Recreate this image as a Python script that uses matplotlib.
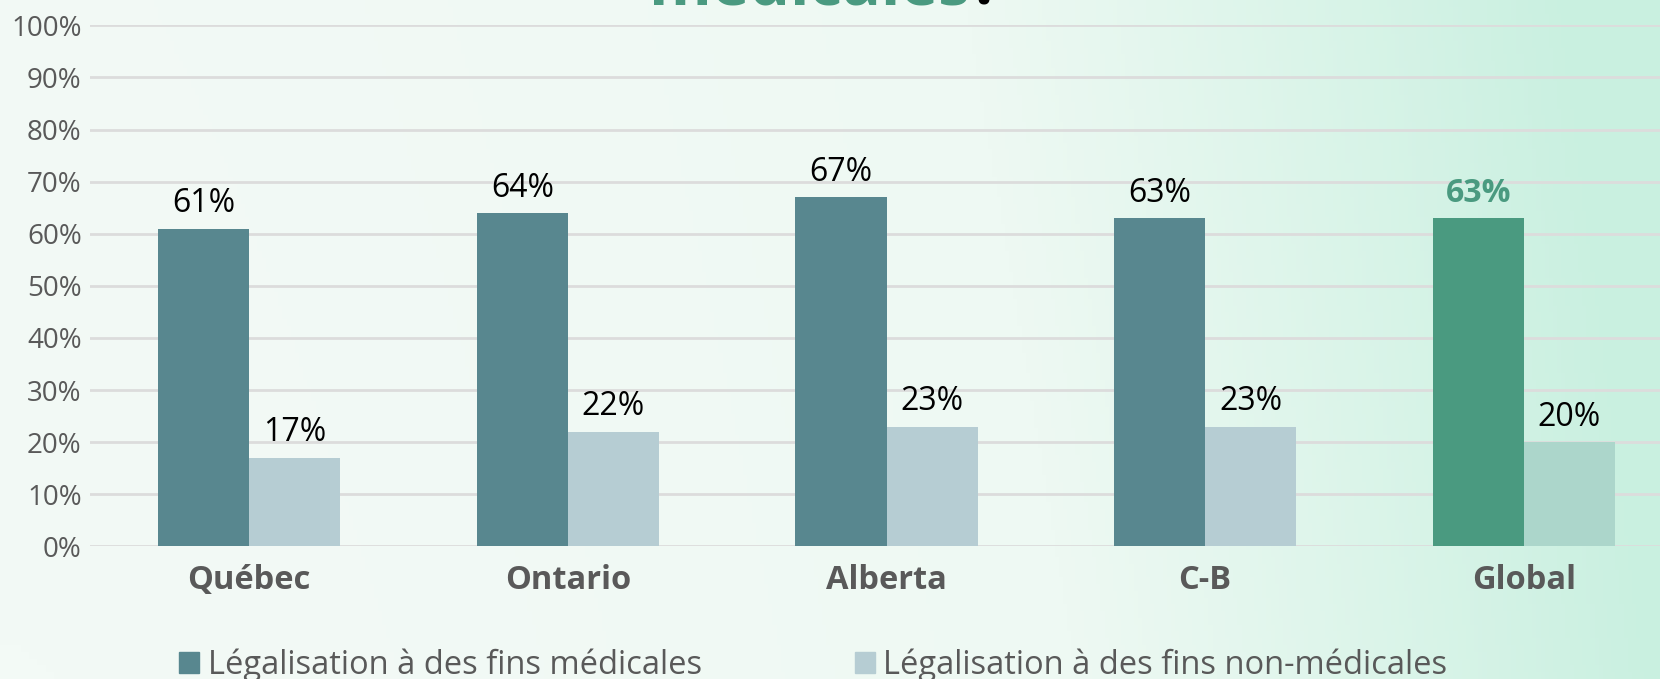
import numpy as np
import matplotlib.pyplot as plt
from matplotlib.colors import LinearSegmentedColormap
from matplotlib.patches import Rectangle

plt.rcParams['font.family'] = ['Open Sans', 'DejaVu Sans']

categories = ['Québec', 'Ontario', 'Alberta', 'C-B', 'Global']
medical = [0.61, 0.64, 0.67, 0.63, 0.63]
non_medical = [0.17, 0.22, 0.23, 0.23, 0.20]
series_names = ['Légalisation à des fins médicales', 'Légalisation à des fins non-médicales']
yticks = [0, 0.1, 0.2, 0.3, 0.4, 0.5, 0.6, 0.7, 0.8, 0.9, 1.0]

dark = '#58878F'
light = '#B6CDD3'
green_dark = '#4A9A80'
green_light = '#ACD6CB'
gray = '#595959'

fig = plt.figure(figsize=(16.6, 6.79), dpi=100)

# background gradient
bg = fig.add_axes([0, 0, 1, 1], zorder=-10)
cmap = LinearSegmentedColormap.from_list('bg', ['#F3FAF6', '#EEF9F3', '#C9F0E0'])
xx, yy = np.meshgrid(np.linspace(0, 1, 400), np.linspace(0, 1, 100))
grad = np.clip(xx ** 1.6 + 0.08 * yy, 0, 1)
bg.imshow(grad, cmap=cmap, aspect='auto', extent=[0, 1, 0, 1], origin='lower')
bg.axis('off')

ax = fig.add_axes([90 / 1660, 0.1954, 1593 / 1660, 0.9626 - 0.1954])
ax.patch.set_alpha(0)

x = np.arange(len(categories))
w = 0.286
c1 = [dark] * 4 + [green_dark]
c2 = [light] * 4 + [green_light]
ax.bar(x - w / 2, medical, w, color=c1, zorder=3)
ax.bar(x + w / 2, non_medical, w, color=c2, zorder=3)

for i in range(len(categories)):
    col = green_dark if categories[i] == 'Global' else 'black'
    fw = 'bold' if categories[i] == 'Global' else 'normal'
    ax.annotate(f'{round(medical[i] * 100)}%', (x[i] - w / 2, medical[i]), xytext=(0, 6),
                textcoords='offset points', ha='center', va='bottom', fontsize=23,
                color=col, fontweight=fw)
    ax.annotate(f'{round(non_medical[i] * 100)}%', (x[i] + w / 2, non_medical[i]), xytext=(0, 6),
                textcoords='offset points', ha='center', va='bottom', fontsize=23, color='black')

ax.set_xlim(-0.5, len(categories) - 0.5)
ax.set_ylim(0, 1)
ax.set_yticks(yticks)
ax.set_yticklabels([f'{round(t * 100)}%' for t in yticks], fontsize=20, color=gray)
ax.set_xticks(x)
ax.set_xticklabels(categories, fontsize=23.5, fontweight='bold', color=gray)
ax.tick_params(axis='both', length=0)
ax.tick_params(axis='x', pad=13)
ax.tick_params(axis='y', pad=6)
ax.grid(axis='y', color='#DCDCDC', linewidth=2, zorder=0)
for s in ax.spines.values():
    s.set_visible(False)

# cut-off title
fig.text(0.584, 0.994, 'médicales', ha='right', va='baseline', fontsize=46,
         fontweight='bold', color=green_dark)
fig.text(0.585, 0.994, '?', ha='left', va='baseline', fontsize=46,
         fontweight='bold', color='black')

# legend
handles = [Rectangle((0, 0), 1, 1, color=dark), Rectangle((0, 0), 1, 1, color=light)]
fig.legend(handles, series_names, loc='center', bbox_to_anchor=(0.49, 0.02),
           ncol=2, frameon=False, fontsize=23.5, labelcolor=gray,
           handlelength=0.62, handleheight=0.62, handletextpad=0.25, columnspacing=4.7)

fig.savefig('out.png', dpi=100)
